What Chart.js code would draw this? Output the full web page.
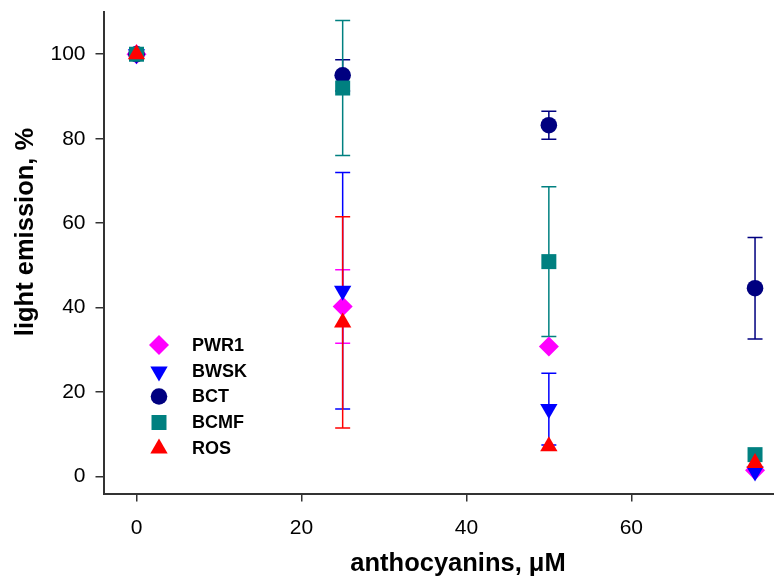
<!DOCTYPE html>
<html>
<head>
<meta charset="utf-8">
<script src="https://cdn.jsdelivr.net/npm/chart.js@4.4.1/dist/chart.umd.min.js"></script>
<style>
  html, body { margin: 0; padding: 0; background: #fff; overflow: hidden; }
  #wrap { width: 774px; height: 578px; }
</style>
</head>
<body>
<div id="wrap"><canvas id="chart" width="774" height="578"></canvas></div>
<script>
// anthocyanin concentration, uM
const doses = [0, 25, 50, 75];
const xTicks = [0, 20, 40, 60];
const yTicks = [0, 20, 40, 60, 80, 100];
const seriesNames = ['PWR1', 'BWSK', 'BCT', 'BCMF', 'ROS'];

// light emission, %
const pwr1 = [100, 40.3, 30.8, 1.5];
const bwsk = [100, 44, 16, 1.2];
const bct  = [100, 95, 83.2, 44.6];
const bcmf = [100, 92, 50.9, 5.2];
const ros  = [100, 36.5, 7.2, 3.2];

// +/- error
const pwr1Err = [0, 8.7, 0, 0];
const bwskErr = [0, 28, 8.5, 0];
const bctErr  = [0, 3.7, 3.3, 12];
const bcmfErr = [0, 16, 17.7, 0];
const rosErr  = [0, 25, 0, 0];

const styles = [
  { color: '#FF00FF', pointStyle: 'rectRot', radius: 10, rotation: 0 },
  { color: '#0000FF', pointStyle: 'triangle', radius: 10, rotation: 180 },
  { color: '#000080', pointStyle: 'circle', radius: 8.3, rotation: 0 },
  { color: '#008080', pointStyle: 'rect', radius: 10.6, rotation: 0 },
  { color: '#FF0000', pointStyle: 'triangle', radius: 10, rotation: 0 }
];

const values = [pwr1, bwsk, bct, bcmf, ros];
const errors = [pwr1Err, bwskErr, bctErr, bcmfErr, rosErr];

const datasets = seriesNames.map((name, i) => ({
  label: name,
  data: doses.map((d, j) => ({ x: d, y: values[i][j] })),
  errors: errors[i],
  pointStyle: styles[i].pointStyle,
  pointRadius: styles[i].radius,
  pointRotation: styles[i].rotation,
  pointBackgroundColor: styles[i].color,
  pointBorderColor: styles[i].color,
  pointBorderWidth: 0,
  backgroundColor: styles[i].color,
  borderColor: styles[i].color,
  showLine: false,
  clip: false,
  order: seriesNames.length - i  // ROS ends up on top
}));

const FONT = '"Liberation Sans", Arial, sans-serif';
Chart.defaults.font.family = FONT;

// vertical error bars with caps, drawn under the markers
const errorBars = {
  id: 'errorBars',
  beforeDatasetsDraw(chart) {
    const { ctx, scales: { x, y } } = chart;
    ctx.save();
    ctx.lineWidth = 1.5;
    chart.data.datasets.forEach(ds => {
      ctx.strokeStyle = ds.borderColor;
      ds.data.forEach((p, i) => {
        const e = ds.errors[i];
        if (!e) return;
        const px = x.getPixelForValue(p.x);
        const top = y.getPixelForValue(p.y + e);
        const bot = y.getPixelForValue(p.y - e);
        ctx.beginPath();
        ctx.moveTo(px, top); ctx.lineTo(px, bot);
        ctx.moveTo(px - 7.5, top); ctx.lineTo(px + 7.5, top);
        ctx.moveTo(px - 7.5, bot); ctx.lineTo(px + 7.5, bot);
        ctx.stroke();
      });
    });
    ctx.restore();
  }
};

// legend box inside the plot, lower left
const insideLegend = {
  id: 'insideLegend',
  afterDatasetsDraw(chart) {
    const { ctx } = chart;
    const rows = [345, 371.5, 396.5, 422.5, 448.5];
    ctx.save();
    chart.data.datasets.forEach((ds, i) => {
      ctx.fillStyle = ds.pointBackgroundColor;
      Chart.helpers.drawPoint(ctx, {
        pointStyle: ds.pointStyle, radius: ds.pointRadius,
        rotation: ds.pointRotation, borderWidth: 0
      }, 159, rows[i]);
      ctx.fillStyle = '#000';
      ctx.font = 'bold 18px ' + FONT;
      ctx.textAlign = 'left';
      ctx.textBaseline = 'middle';
      ctx.fillText(ds.label, 192, rows[i] + 1);
    });
    ctx.restore();
  }
};

// axis titles
const axisTitles = {
  id: 'axisTitles',
  afterDraw(chart) {
    const { ctx } = chart;
    ctx.save();
    ctx.fillStyle = '#000';
    ctx.textAlign = 'center';
    ctx.textBaseline = 'alphabetic';
    ctx.font = 'bold 25.5px ' + FONT;
    ctx.fillText('anthocyanins, \u03bcM', 458, 571);
    ctx.translate(33, 232);
    ctx.rotate(-Math.PI / 2);
    ctx.fillText('light emission, %', 0, 0);
    ctx.restore();
  }
};

const axisGrid = {
  display: true, drawOnChartArea: false, drawTicks: true,
  tickLength: 8, color: '#333', lineWidth: 1.5
};

new Chart(document.getElementById('chart'), {
  type: 'scatter',
  data: { datasets },
  options: {
    responsive: false,
    animation: false,
    events: [],
    layout: { autoPadding: false, padding: { top: 12, right: 0, bottom: 0, left: 0 } },
    plugins: { legend: { display: false }, tooltip: { enabled: false } },
    scales: {
      x: {
        type: 'linear', min: -4, max: 77.3,
        afterBuildTicks: s => { s.ticks = xTicks.map(v => ({ value: v })); },
        afterFit: s => { s.height = 84.5; s.paddingLeft = 0; s.paddingRight = 0; },
        grid: axisGrid,
        border: { display: true, color: '#333', width: 2 },
        ticks: { color: '#000', font: { size: 21 }, padding: 14, maxRotation: 0 }
      },
      y: {
        type: 'linear', min: -4, max: 110,
        afterBuildTicks: s => { s.ticks = yTicks.map(v => ({ value: v })); },
        afterFit: s => { s.width = 103.5; s.paddingTop = 0; s.paddingBottom = 0; },
        grid: axisGrid,
        border: { display: true, color: '#333', width: 2 },
        ticks: { color: '#000', font: { size: 21 }, padding: 10 }
      }
    }
  },
  plugins: [errorBars, insideLegend, axisTitles]
});
</script>
</body>
</html>
